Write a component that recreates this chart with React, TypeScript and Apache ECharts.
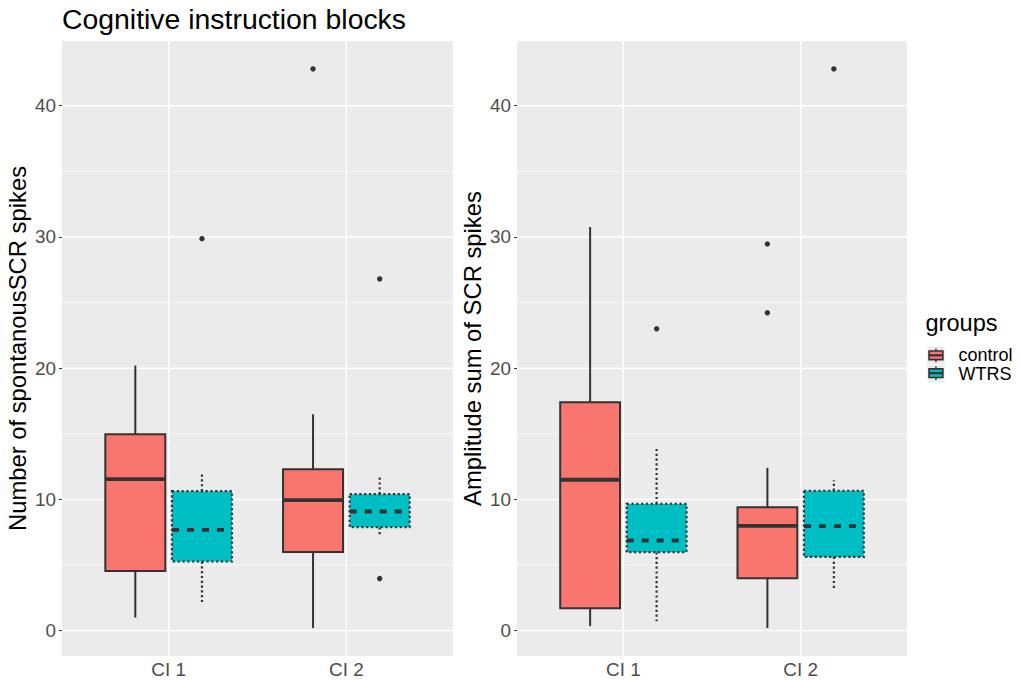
import React, { useEffect, useRef } from "react";
import * as echarts from "echarts";

// ---------- data ----------
const categories = ["CI 1", "CI 2"];
const groupNames = ["control", "WTRS"];
const yTicks = [0, 10, 20, 30, 40];
const yMinorTicks = [5, 15, 25, 35];
const xTicks = [1, 2];

// Panel 1: Number of spontaneous SCR spikes  — [category, lower whisker, Q1, median, Q3, upper whisker]
const countControl = [
  [1, 1.0, 4.55, 11.55, 14.96, 20.2],
  [2, 0.2, 6.0, 9.95, 12.29, 16.49],
];
const countWTRS = [
  [1, 2.14, 5.27, 7.68, 10.63, 12.06],
  [2, 7.35, 7.88, 9.08, 10.4, 11.78],
];
const countControlOutliers = [[2, 42.8]];
const countWTRSOutliers = [
  [1, 29.87],
  [2, 3.97],
  [2, 26.8],
];

// Panel 2: Amplitude sum of SCR spikes
const ampControl = [
  [1, 0.35, 1.7, 11.5, 17.4, 30.76],
  [2, 0.2, 3.99, 7.99, 9.41, 12.41],
];
const ampWTRS = [
  [1, 0.71, 5.98, 6.87, 9.66, 13.84],
  [2, 3.08, 5.62, 7.96, 10.66, 11.47],
];
const ampControlOutliers = [
  [2, 29.46],
  [2, 24.22],
];
const ampWTRSOutliers = [
  [1, 23.0],
  [2, 42.8],
];

// ---------- styling ----------
const FONT = "Liberation Sans, Arial, Helvetica, sans-serif";
const COLORS = ["#F8766D", "#00BFC4"];
const DARK = "#333333";
const DODGE = 0.1875;
const HALF = 0.16875;
const TICK_FONT = 18.9;
const AXIS_TITLE_FONT = 23.8;

function panelRange(lists: number[][][]) {
  let lo = Infinity;
  let hi = -Infinity;
  lists.forEach((l) =>
    l.forEach((r) => {
      r.slice(1).forEach((v) => {
        lo = Math.min(lo, v);
        hi = Math.max(hi, v);
      });
    })
  );
  const pad = (hi - lo) * 0.05;
  return [lo - pad, hi + pad];
}

function gridRenderer(params: any, api: any) {
  const cs = params.coordSys;
  const kind = api.value(2);
  if (kind < 2) {
    const y = api.coord([1, api.value(1)])[1];
    return {
      type: "line",
      shape: { x1: cs.x, y1: y, x2: cs.x + cs.width, y2: y },
      style: { stroke: "#FFFFFF", lineWidth: kind === 0 ? 1.4 : 0.7 },
      silent: true,
    };
  }
  const x = api.coord([api.value(0), 0])[0];
  return {
    type: "line",
    shape: { x1: x, y1: cs.y, x2: x, y2: cs.y + cs.height },
    style: { stroke: "#FFFFFF", lineWidth: 1.4 },
    silent: true,
  };
}

function boxRenderer(offset: number, fill: string, dashed: boolean) {
  return (params: any, api: any) => {
    const xc = api.value(0) + offset;
    const pQ3 = api.coord([xc - HALF, api.value(4)]);
    const pQ1 = api.coord([xc + HALF, api.value(2)]);
    const pMed = api.coord([xc, api.value(3)]);
    const yLow = api.coord([xc, api.value(1)])[1];
    const yHigh = api.coord([xc, api.value(5)])[1];
    const xm = pMed[0];
    const dash = dashed ? { lineDash: [2.2, 2.6] } : {};
    const lineStyle = { stroke: DARK, lineWidth: dashed ? 2.2 : 2, ...dash };
    return {
      type: "group",
      children: [
        { type: "line", shape: { x1: xm, y1: pQ3[1], x2: xm, y2: yHigh }, style: lineStyle },
        { type: "line", shape: { x1: xm, y1: pQ1[1], x2: xm, y2: yLow }, style: lineStyle },
        {
          type: "rect",
          shape: { x: pQ3[0], y: pQ3[1], width: pQ1[0] - pQ3[0], height: pQ1[1] - pQ3[1] },
          style: { fill, stroke: DARK, lineWidth: dashed ? 2.2 : 2, ...dash },
        },
        {
          type: "line",
          shape: { x1: pQ3[0], y1: pMed[1], x2: pQ1[0], y2: pMed[1] },
          style: { stroke: DARK, lineWidth: 3.8, ...(dashed ? { lineDash: [7, 8] } : {}) },
        },
      ],
    };
  };
}

function outlierRenderer(offset: number) {
  return (params: any, api: any) => {
    const p = api.coord([api.value(0) + offset, api.value(1)]);
    return { type: "circle", shape: { cx: p[0], cy: p[1], r: 2.7 }, style: { fill: DARK } };
  };
}

function buildPanel(
  idx: number,
  name: string,
  control: number[][],
  wtrs: number[][],
  controlOut: number[][],
  wtrsOut: number[][]
) {
  const [yMin, yMax] = panelRange([control, wtrs, controlOut, wtrsOut]);
  const gridData = [
    ...yTicks.map((v) => [1, v, 0]),
    ...yMinorTicks.map((v) => [1, v, 1]),
    ...xTicks.map((v) => [v, 0, 2]),
  ];
  const xAxis = {
    type: "value",
    gridIndex: idx,
    min: 0.4,
    max: 2.6,
    axisLine: { show: false },
    splitLine: { show: false },
    axisTick: { show: true, customValues: xTicks, length: 3, lineStyle: { color: DARK, width: 1 } },
    axisLabel: {
      customValues: xTicks,
      formatter: (v: number) => categories[Math.round(v) - 1],
      color: "#4D4D4D",
      fontSize: TICK_FONT,
      fontFamily: FONT,
      margin: 4,
    },
  };
  const yAxis = {
    type: "value",
    gridIndex: idx,
    min: yMin,
    max: yMax,
    axisLine: { show: false },
    splitLine: { show: false },
    axisTick: { show: true, customValues: yTicks, length: 3, lineStyle: { color: DARK, width: 1 } },
    axisLabel: { customValues: yTicks, color: "#4D4D4D", fontSize: TICK_FONT, fontFamily: FONT, margin: 6 },
    name,
    nameLocation: "middle",
    nameGap: 33,
    nameTextStyle: { fontSize: AXIS_TITLE_FONT, color: "#000000", fontFamily: FONT },
  };
  const common = { xAxisIndex: idx, yAxisIndex: idx, silent: true };
  const series = [
    {
      type: "custom",
      ...common,
      z: 1,
      data: gridData,
      encode: { x: 0, y: 1 },
      renderItem: gridRenderer,
    },
    {
      type: "custom",
      name: groupNames[0],
      ...common,
      z: 3,
      data: control,
      encode: { x: 0, y: [1, 2, 3, 4, 5] },
      renderItem: boxRenderer(-DODGE, COLORS[0], false),
    },
    {
      type: "custom",
      name: groupNames[1],
      ...common,
      z: 3,
      data: wtrs,
      encode: { x: 0, y: [1, 2, 3, 4, 5] },
      renderItem: boxRenderer(DODGE, COLORS[1], true),
    },
    {
      type: "custom",
      ...common,
      z: 4,
      data: controlOut,
      encode: { x: 0, y: 1 },
      renderItem: outlierRenderer(-DODGE),
    },
    {
      type: "custom",
      ...common,
      z: 4,
      data: wtrsOut,
      encode: { x: 0, y: 1 },
      renderItem: outlierRenderer(DODGE),
    },
  ];
  return { xAxis, yAxis, series };
}

function legendKey(cy: number, textY: number, fill: string, label: string) {
  const x0 = 927.3;
  const s = 17.3;
  const top = cy - s / 2;
  const cx = x0 + s / 2;
  return [
    { type: "rect", shape: { x: x0, y: top, width: s, height: s }, style: { fill: "#EBEBEB" }, silent: true },
    { type: "line", shape: { x1: cx, y1: top + s * 0.1, x2: cx, y2: top + s * 0.9 }, style: { stroke: DARK, lineWidth: 1.4 }, silent: true },
    {
      type: "rect",
      shape: { x: x0 + s * 0.1, y: top + s * 0.25, width: s * 0.8, height: s * 0.5 },
      style: { fill, stroke: DARK, lineWidth: 1.6 },
      silent: true,
    },
    { type: "line", shape: { x1: x0 + s * 0.1, y1: cy, x2: x0 + s * 0.9, y2: cy }, style: { stroke: DARK, lineWidth: 2.2 }, silent: true },
    {
      type: "text",
      x: 958.5,
      y: textY,
      style: { text: label, font: `18px ${FONT}`, fill: "#000000", verticalAlign: "middle", align: "left", lineHeight: 16 },
      silent: true,
    },
  ];
}

export default function App() {
  const ref = useRef<HTMLDivElement>(null);
  useEffect(() => {
    if (!ref.current) return;
    const chart = echarts.init(ref.current, undefined, { renderer: "svg" });
    const p1 = buildPanel(0, "Number of spontanousSCR spikes", countControl, countWTRS, countControlOutliers, countWTRSOutliers);
    const p2 = buildPanel(1, "Amplitude sum of SCR spikes", ampControl, ampWTRS, ampControlOutliers, ampWTRSOutliers);
    chart.setOption({
      animation: false,
      backgroundColor: "#FFFFFF",
      textStyle: { fontFamily: FONT },
      title: {
        text: "Cognitive instruction blocks",
        left: 57,
        top: 0,
        textStyle: { fontSize: 28.4, fontWeight: "normal", color: "#000000", fontFamily: FONT },
      },
      grid: [
        { left: 62, top: 41, width: 391, height: 615, show: true, backgroundColor: "#EBEBEB", borderWidth: 0 },
        { left: 517, top: 41, width: 390, height: 615, show: true, backgroundColor: "#EBEBEB", borderWidth: 0 },
      ],
      xAxis: [p1.xAxis, p2.xAxis],
      yAxis: [p1.yAxis, p2.yAxis],
      series: [...p1.series, ...p2.series],
      graphic: [
        {
          type: "text",
          x: 925.5,
          y: 323,
          style: { text: "groups", font: `23.6px ${FONT}`, fill: "#000000", verticalAlign: "middle", align: "left" },
          silent: true,
        },
        ...legendKey(355.3, 354.6, COLORS[0], groupNames[0]),
        ...legendKey(373.2, 374.0, COLORS[1], groupNames[1]),
      ],
    });
    return () => chart.dispose();
  }, []);
  return (
    <div
      ref={ref}
      style={{ position: "fixed", left: 0, top: 0, width: 1020, height: 682 }}
    />
  );
}
